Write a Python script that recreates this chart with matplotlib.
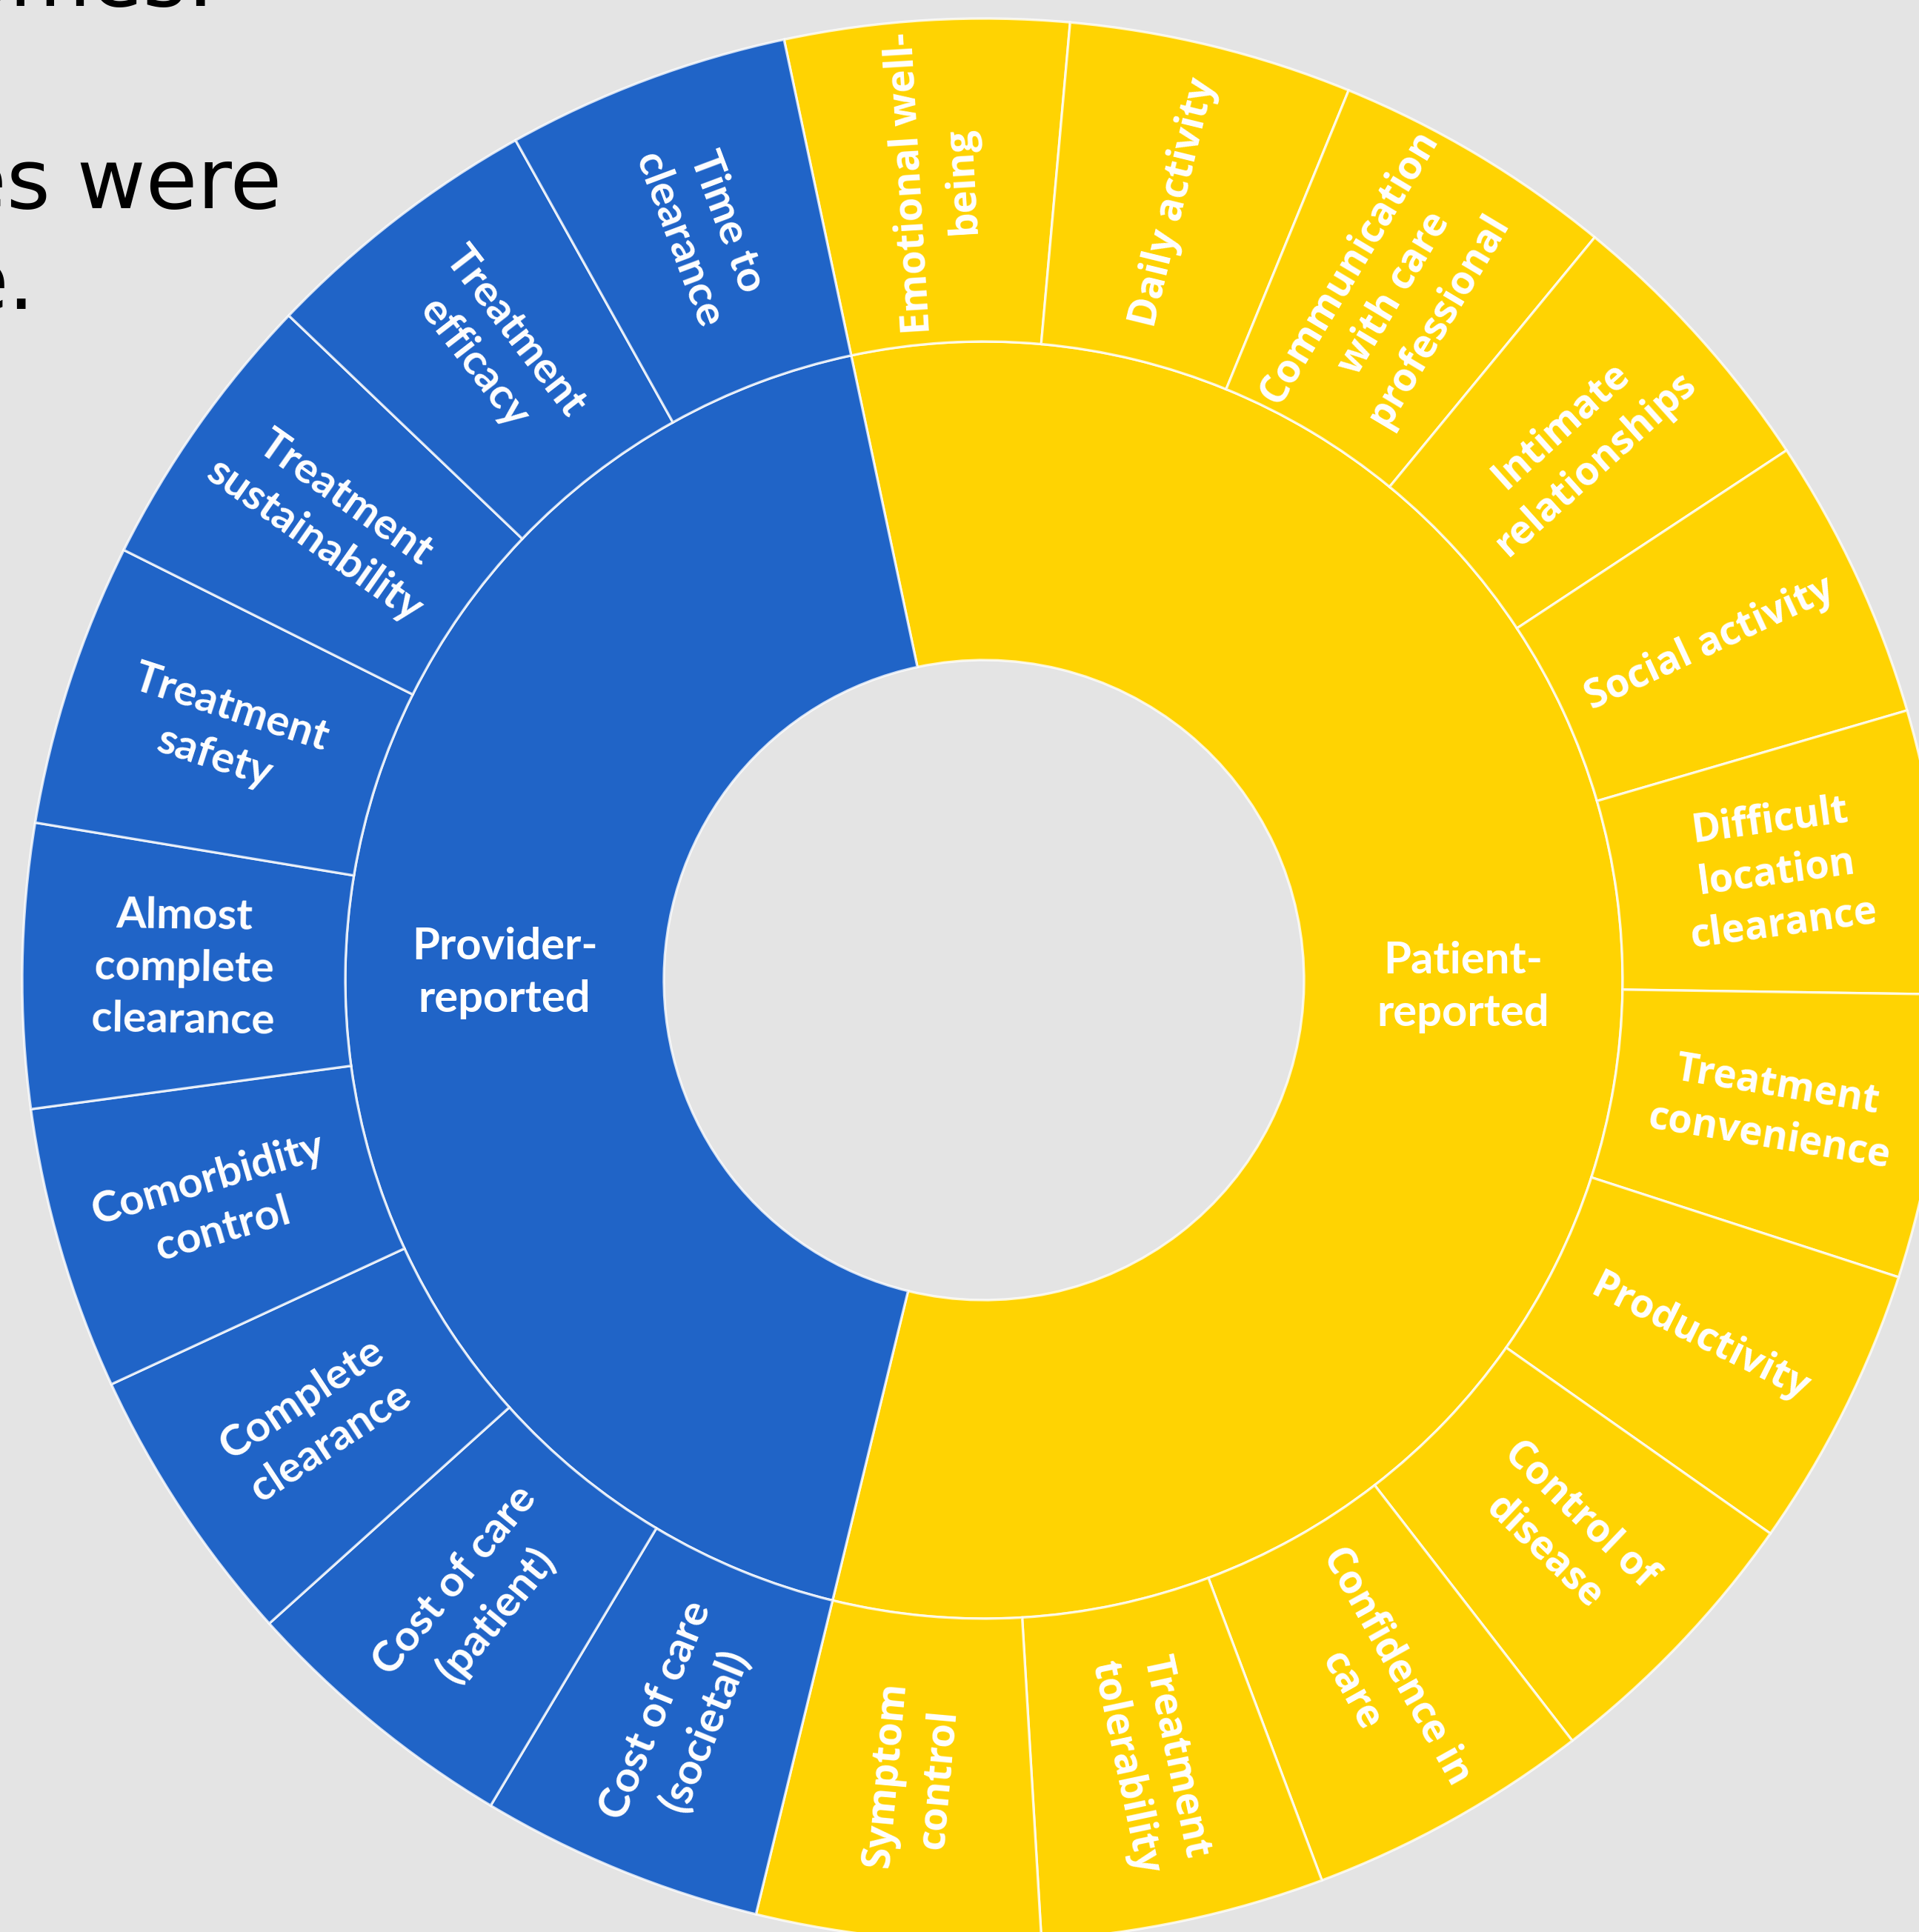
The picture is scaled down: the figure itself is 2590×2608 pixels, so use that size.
import matplotlib.pyplot as plt
import numpy as np

# groups (inner ring) and their sub-categories (outer ring), clockwise from top
groups = ["Patient-\nreported", "Provider-\nreported"]
patient_items = ["Emotional well-\nbeing", "Daily activity", "Communication\nwith care\nprofessional",
                 "Intimate\nrelationships", "Social activity", "Difficult\nlocation\nclearance",
                 "Treatment\nconvenience", "Productivity", "Control of\ndisease",
                 "Confidence in\ncare", "Treatment\ntolerability", "Symptom\ncontrol"]
provider_items = ["Cost of care\n(societal)", "Cost of care\n(patient)", "Complete\nclearance",
                  "Comorbidity\ncontrol", "Almost\ncomplete\nclearance", "Treatment\nsafety",
                  "Treatment\nsustainability", "Treatment\nefficacy", "Time to\nclearance"]
patient_values = [1, 1, 1, 1, 1, 1, 1, 1, 1, 1, 1, 1]
provider_values = [1, 1, 1, 1, 1, 1, 1, 1, 1]

# slide text fragments that show at the top left
slide_lines = ["omes:", "es were", "e."]

BLUE = "#2064c7"
YELLOW = "#ffd302"
BG = "#e4e4e4"

W, H = 2590, 2608
fig = plt.figure(figsize=(W / 100, H / 100), dpi=100, facecolor=BG)
ax = fig.add_axes([0, 0, 1, 1])
ax.set_facecolor(BG)

cx, cy = 1328, H - 1323
r_out, r_mid, r_in = 1298, 862, 432
start = 102  # degrees, where Patient-reported begins

inner_vals = [sum(patient_values), sum(provider_values)]
outer_vals = patient_values + provider_values
outer_cols = [YELLOW] * len(patient_values) + [BLUE] * len(provider_values)
edge = (1, 1, 1, 0.8)

w_in, _ = ax.pie(inner_vals, radius=r_mid, center=(cx, cy), startangle=start,
                 counterclock=False, colors=[YELLOW, BLUE],
                 wedgeprops=dict(width=r_mid - r_in, edgecolor=edge, linewidth=2.4))
w_out, _ = ax.pie(outer_vals, radius=r_out, center=(cx, cy), startangle=start,
                  counterclock=False, colors=outer_cols,
                  wedgeprops=dict(width=r_out - r_mid, edgecolor=edge, linewidth=2.4))

offset = start - 90
labels = patient_items + provider_items
n_pat = len(patient_items)
rm = (r_out + r_mid) / 2
for i, (w, lab) in enumerate(zip(w_out, labels)):
    ang = (w.theta1 + w.theta2) / 2
    rot = (ang - offset + 90.5) % 180 - 90.5 + offset
    x = cx + rm * np.cos(np.radians(ang))
    y = cy + rm * np.sin(np.radians(ang))
    if i < n_pat:
        fam, fs = ["Open Sans", "DejaVu Sans"], 38
    else:
        fam, fs = ["Lato", "DejaVu Sans"], 42
    ax.text(x, y, lab, rotation=rot, rotation_mode="anchor", ha="center", va="center",
            color="white", fontsize=fs, fontweight="bold", family=fam, linespacing=1.4)

ri = (r_mid + r_in) / 2
for w, lab in zip(w_in, groups):
    ang = (w.theta1 + w.theta2) / 2
    x = cx + ri * np.cos(np.radians(ang))
    y = cy + ri * np.sin(np.radians(ang))
    ax.text(x, y, lab, ha="center", va="center", color="white", fontsize=43,
            fontweight="bold", family=["Lato", "DejaVu Sans"], linespacing=1.4)

# partial slide text, cut by the left edge
txt_pos = [(290, H - 8), (380, H - 281), (47, H - 417)]
for (x, y), s in zip(txt_pos, slide_lines):
    ax.text(x, y, s, ha="right", va="baseline", fontsize=81.6, color="black",
            family="DejaVu Sans")

ax.set_xlim(0, W)
ax.set_ylim(0, H)
ax.set_aspect("auto")
ax.axis("off")
fig.savefig("out.png", dpi=100, facecolor=BG)
